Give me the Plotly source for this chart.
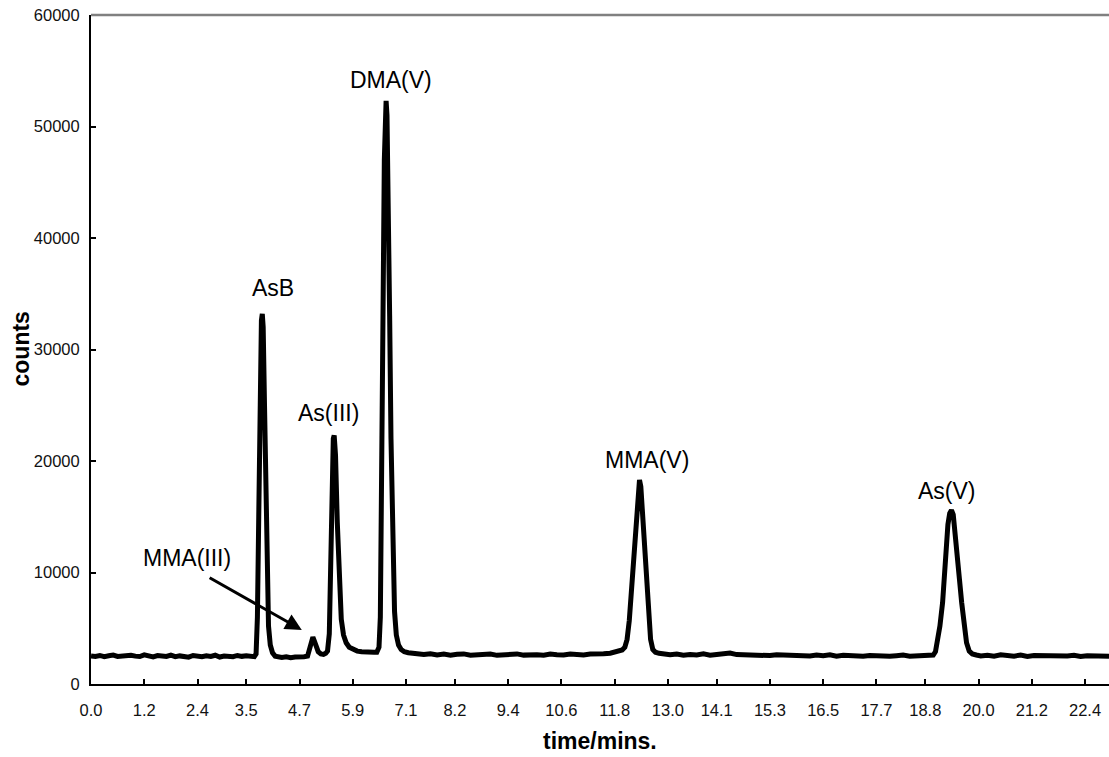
import plotly.graph_objects as go

# ---- data ----
base1_t = [0.0, 0.1, 0.2, 0.3, 0.4, 0.5, 0.6, 0.7, 0.8, 0.9, 1.0, 1.1, 1.2, 1.3, 1.4, 1.5, 1.6, 1.7, 1.8, 1.9,
           2.0, 2.1, 2.2, 2.3, 2.4, 2.5, 2.6, 2.7, 2.8, 2.9, 3.0, 3.1, 3.2, 3.3, 3.4, 3.5, 3.6]
base1_c = [2520, 2470, 2560, 2450, 2530, 2590, 2470, 2510, 2440, 2580, 2500, 2460, 2610, 2490, 2430, 2550, 2510, 2470, 2590, 2450,
           2520, 2480, 2410, 2560, 2500, 2440, 2530, 2470, 2580, 2420, 2510, 2490, 2450, 2560, 2480, 2530, 2460]

asb_t = [3.68, 3.72, 3.75, 3.78, 3.81, 3.84, 3.86, 3.88, 3.91, 3.94, 3.97, 4.00, 4.04, 4.09, 4.15, 4.22]
asb_c = [2450, 2700, 6000, 15000, 27000, 32600, 33200, 32000, 25000, 16000, 9000, 5200, 3500, 2800, 2500, 2420]

base2_t = [4.3, 4.4, 4.5, 4.6, 4.7, 4.8]
base2_c = [2380, 2440, 2360, 2420, 2390, 2450]

as3_t = [4.88, 4.93, 4.97, 5.00, 5.03, 5.07, 5.12, 5.18, 5.24, 5.29, 5.33, 5.37, 5.40, 5.43, 5.46, 5.48, 5.51,
         5.55, 5.60, 5.64, 5.69, 5.75, 5.82, 5.90, 6.00, 6.10, 6.20, 6.30, 6.38]
as3_c = [2500, 3100, 3900, 4200, 3900, 3300, 2900, 2700, 2650, 2750, 2950, 4500, 11500, 18500, 22000, 22300, 20500,
         14500, 9000, 5800, 4400, 3700, 3300, 3100, 2950, 2900, 2850, 2800, 2850]

dma_t = [6.44, 6.49, 6.52, 6.55, 6.58, 6.61, 6.63, 6.65, 6.67, 6.70, 6.73, 6.76, 6.80, 6.84, 6.88, 6.93, 6.99, 7.06, 7.15, 7.25]
dma_c = [2850, 3300, 6000, 16000, 33000, 47000, 51500, 52300, 51000, 44000, 33000, 22000, 12000, 6500, 4400, 3500, 3100, 2900, 2800, 2750]

base3_t = [7.35, 7.5, 7.65, 7.8, 7.95, 8.1, 8.25, 8.4, 8.55, 8.7, 8.85, 9.0, 9.15, 9.3, 9.45, 9.6, 9.75, 9.9, 10.05, 10.2,
           10.35, 10.5, 10.65, 10.8, 10.95, 11.1, 11.25, 11.4, 11.55, 11.7, 11.8]
base3_c = [2700, 2640, 2720, 2610, 2680, 2590, 2660, 2700, 2580, 2650, 2620, 2690, 2570, 2640, 2610, 2700, 2590, 2660, 2620, 2580,
           2680, 2630, 2600, 2690, 2640, 2610, 2680, 2650, 2720, 2760, 2850]

mma5_t = [11.9, 11.97, 12.03, 12.08, 12.13, 12.18, 12.24, 12.29, 12.33, 12.36, 12.39, 12.43, 12.48, 12.53, 12.57, 12.61, 12.66, 12.72, 12.8]
mma5_c = [2950, 3050, 3300, 4000, 5700, 8500, 11700, 15500, 17800, 18300, 17700, 15000, 11700, 8000, 5700, 4000, 3100, 2850, 2750]

base4_t = [12.9, 13.05, 13.2, 13.35, 13.5, 13.65, 13.8, 13.95, 14.1, 14.25, 14.4, 14.55, 14.7, 14.85, 15.0, 15.15, 15.3, 15.45,
           15.6, 15.75, 15.9, 16.05, 16.2, 16.35, 16.5, 16.65, 16.8, 16.95, 17.1, 17.25, 17.4, 17.55, 17.7, 17.85, 18.0, 18.15,
           18.3, 18.45, 18.6, 18.75, 18.9]
base4_c = [2700, 2620, 2680, 2590, 2650, 2610, 2700, 2580, 2640, 2690, 2780, 2640, 2620, 2570, 2640, 2600, 2550, 2620,
           2580, 2530, 2600, 2560, 2510, 2590, 2540, 2620, 2500, 2570, 2530, 2600, 2480, 2550, 2510, 2580, 2490, 2540,
           2600, 2500, 2560, 2520, 2570]

as5_t = [18.98, 19.03, 19.08, 19.13, 19.19, 19.26, 19.31, 19.35, 19.39, 19.43, 19.47, 19.52, 19.57, 19.62, 19.67, 19.73, 19.79, 19.86, 19.95]
as5_c = [2600, 2900, 3800, 5200, 7300, 11700, 14300, 15300, 15600, 15200, 13800, 11700, 9400, 7300, 5200, 3700, 2950, 2700, 2600]

base5_t = [20.05, 20.2, 20.35, 20.5, 20.65, 20.8, 20.95, 21.1, 21.25, 21.4, 21.55, 21.7, 21.85, 22.0, 22.15, 22.3, 22.45, 22.6, 22.75, 22.94]
base5_c = [2520, 2580, 2490, 2620, 2540, 2500, 2590, 2470, 2550, 2520, 2600, 2480, 2540, 2510, 2570, 2460, 2530, 2490, 2550, 2500]

x_tick_labels = ["0.0", "1.2", "2.4", "3.5", "4.7", "5.9", "7.1", "8.2", "9.4", "10.6", "11.8", "13.0",
                 "14.1", "15.3", "16.5", "17.7", "18.8", "20.0", "21.2", "22.4"]
y_tick_values = [0, 10000, 20000, 30000, 40000, 50000, 60000]

peak_names = ["AsB", "As(III)", "DMA(V)", "MMA(V)", "As(V)"]
peak_label_t = [4.10, 5.36, 6.77, 12.53, 19.30]
peak_label_c = [35500, 24300, 54170, 20090, 17300]

mma3_label = "MMA(III)"
mma3_label_pos = (2.16, 11300)
mma3_arrow_tail = (2.64, 9600)
mma3_arrow_tip = (4.75, 4850)

# ---- assemble ----
segments_t = [base1_t, asb_t, base2_t, as3_t, dma_t, base3_t, mma5_t, base4_t, as5_t, base5_t]
segments_c = [base1_c, asb_c, base2_c, as3_c, dma_c, base3_c, mma5_c, base4_c, as5_c, base5_c]
time_min, counts = [], []
for ts, cs in zip(segments_t, segments_c):
    assert len(ts) == len(cs), (ts[0], len(ts), len(cs))
    time_min += ts
    counts += cs

FONT = "Liberation Sans, Arial, sans-serif"

fig = go.Figure()
fig.add_trace(go.Scatter(x=time_min, y=counts, mode="lines",
                         line=dict(color="black", width=5), hoverinfo="skip"))

annotations = []
for name, t, c in zip(peak_names, peak_label_t, peak_label_c):
    annotations.append(dict(x=t, y=c, xref="x", yref="y", text=name, showarrow=False,
                            font=dict(family=FONT, size=23, color="black"),
                            xanchor="center", yanchor="middle"))
annotations.append(dict(x=mma3_label_pos[0], y=mma3_label_pos[1], xref="x", yref="y", text=mma3_label,
                        showarrow=False, font=dict(family=FONT, size=23, color="black"),
                        xanchor="center", yanchor="middle"))
annotations.append(dict(x=mma3_arrow_tip[0], y=mma3_arrow_tip[1], xref="x", yref="y",
                        ax=mma3_arrow_tail[0], ay=mma3_arrow_tail[1], axref="x", ayref="y",
                        text="", showarrow=True, arrowhead=2, arrowsize=1.1, arrowwidth=3,
                        arrowcolor="black"))
annotations.append(dict(x=0.5, y=0, xref="paper", yref="paper", text="<b>time/mins.</b>",
                        showarrow=False, font=dict(family=FONT, size=23, color="black"),
                        xanchor="center", yanchor="middle", yshift=-57))
annotations.append(dict(x=0, y=0.5, xref="paper", yref="paper", text="<b>counts</b>", textangle=-90,
                        showarrow=False, font=dict(family=FONT, size=23, color="black"),
                        xanchor="center", yanchor="middle", xshift=-71))

fig.update_layout(
    width=1109, height=757,
    margin=dict(l=91, r=0, t=15, b=73),
    paper_bgcolor="white", plot_bgcolor="white",
    showlegend=False,
    annotations=annotations,
    shapes=[dict(type="line", xref="paper", yref="paper", x0=0, x1=1, y0=1, y1=1,
                 line=dict(color="#808080", width=2.5))],
    xaxis=dict(range=[0, 22.94], tickvals=[float(s) for s in x_tick_labels], ticktext=x_tick_labels,
               ticks="inside", ticklen=5, tickwidth=1.5, tickcolor="black", ticklabelstandoff=10,
               showline=True, linecolor="black", linewidth=2, showgrid=False, zeroline=False,
               tickfont=dict(family=FONT, size=16.5, color="#111111")),
    yaxis=dict(range=[0, 60000], tickvals=y_tick_values, ticktext=[str(v) for v in y_tick_values],
               ticks="inside", ticklen=5, tickwidth=1.5, tickcolor="black", ticklabelstandoff=6,
               showline=True, linecolor="black", linewidth=2, showgrid=False, zeroline=False,
               tickfont=dict(family=FONT, size=16.5, color="#111111")),
)

fig.write_html("out.html", config={"displayModeBar": False},
               post_script="document.body.style.margin='0';document.body.style.overflow='hidden';")
